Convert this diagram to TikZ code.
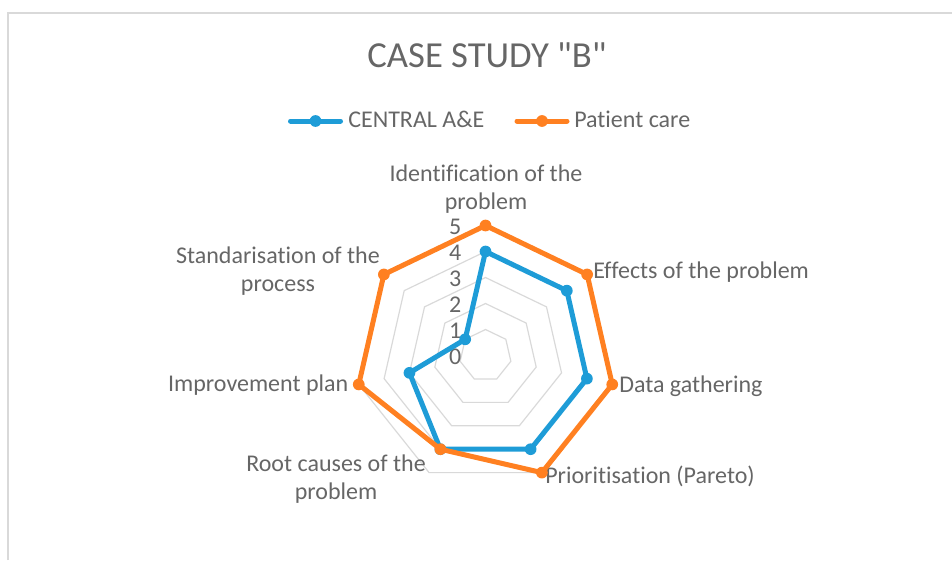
\documentclass[tikz,border=0pt]{standalone}
\usepackage{fontspec}
\setmainfont{Carlito}[Ligatures={TeXOff,CommonOff}]
\usetikzlibrary{calc}
\definecolor{gridgrey}{HTML}{D9D9D9}
\definecolor{textgrey}{HTML}{666666}
\definecolor{aeblue}{HTML}{1E9CD7}
\definecolor{careorange}{HTML}{FF8021}
\tikzset{
  axislabel/.style={font=\fontsize{18}{21}\selectfont, text=textgrey, inner sep=0pt, align=center},
  ticklabel/.style={font=\fontsize{18}{21}\selectfont, text=textgrey, inner sep=0pt},
  seriesline/.style={line width=3.75pt, line join=round, line cap=round},
  seriesdot/.style={circle, fill=#1, inner sep=0pt, minimum size=8.8pt},
}

\begin{document}
\begin{tikzpicture}[x=0.75pt, y=-0.75pt]
    \useasboundingbox (0,0) rectangle (952,560);
    % chart frame
    \draw [gridgrey, line width=1.5pt] (8.3,560) -- (8.3,13.3) -- (952,13.3);
    \node (title) [font=\fontsize{27.5}{33}\selectfont, text=textgrey, inner sep=0pt, anchor=base] at (487,68) {CASE STUDY "B"};
    % legend
    \coordinate (aekey) at (315.5,121);
    \coordinate (carekey) at (542,121);
    \draw [seriesline, aeblue] ($(aekey)+(-25,0)$) -- ($(aekey)+(25,0)$);
    \node [seriesdot=aeblue] at (aekey) {};
    \node (aelegend) [axislabel, anchor=base west] at (348,127.3) {CENTRAL A\&E};
    \draw [seriesline, careorange] ($(carekey)+(-25,0)$) -- ($(carekey)+(25,0)$);
    \node [seriesdot=careorange] at (carekey) {};
    \node (carelegend) [axislabel, anchor=base west] at (574,127.3) {Patient care};
    % radar grid
    \coordinate (c) at (485.5,355.5);
    \foreach \r in {1,...,5}
        \draw [gridgrey, line width=0.9pt] ($(c)+(90:\r*19.5pt)$) \foreach \k in {1,...,6} { -- ($(c)+(90-\k*360/7:\r*19.5pt)$) } -- cycle;
    \foreach \v in {0,...,5}
        \node (tick\v) [ticklabel, anchor=east] at ($(c)+(-24,-26*\v+1.2)$) {\v};
    % category labels (base = last line)
    \node (identlabel) [axislabel, anchor=base] at (486,209) {Identification of the\\problem};
    \node (effectslabel) [axislabel, anchor=base west] at (593,278.3) {Effects of the problem};
    \node (datalabel) [axislabel, anchor=base west] at (619,392.7) {Data gathering};
    \node (paretolabel) [axislabel, anchor=base west] at (545,483.3) {Prioritisation (Pareto)};
    \node (rootlabel) [axislabel, anchor=base] at (336,499) {Root causes of the\\problem};
    \node (planlabel) [axislabel, anchor=base east] at (348.5,391.7) {Improvement plan};
    \node (stdlabel) [axislabel, anchor=base] at (278,291.5) {Standarisation of the\\process};
    % series
    \foreach \v [count=\k from 0] in {4,4,4,4,4,3,1}
        \coordinate (ae\k) at ($(c)+(90-\k*360/7:\v*19.5pt)$);
    \foreach \v [count=\k from 0] in {5,5,5,5,4,5,5}
        \coordinate (care\k) at ($(c)+(90-\k*360/7:\v*19.5pt)$);
    \draw [seriesline, aeblue] (ae0) -- (ae1) -- (ae2) -- (ae3) -- (ae4) -- (ae5) -- (ae6) -- cycle;
    \foreach \k in {0,...,6}
        \node (aedot\k) [seriesdot=aeblue] at (ae\k) {};
    \draw [seriesline, careorange] (care0) -- (care1) -- (care2) -- (care3) -- (care4) -- (care5) -- (care6) -- cycle;
    \foreach \k in {0,...,6}
        \node (caredot\k) [seriesdot=careorange] at (care\k) {};
\end{tikzpicture}
\end{document}
